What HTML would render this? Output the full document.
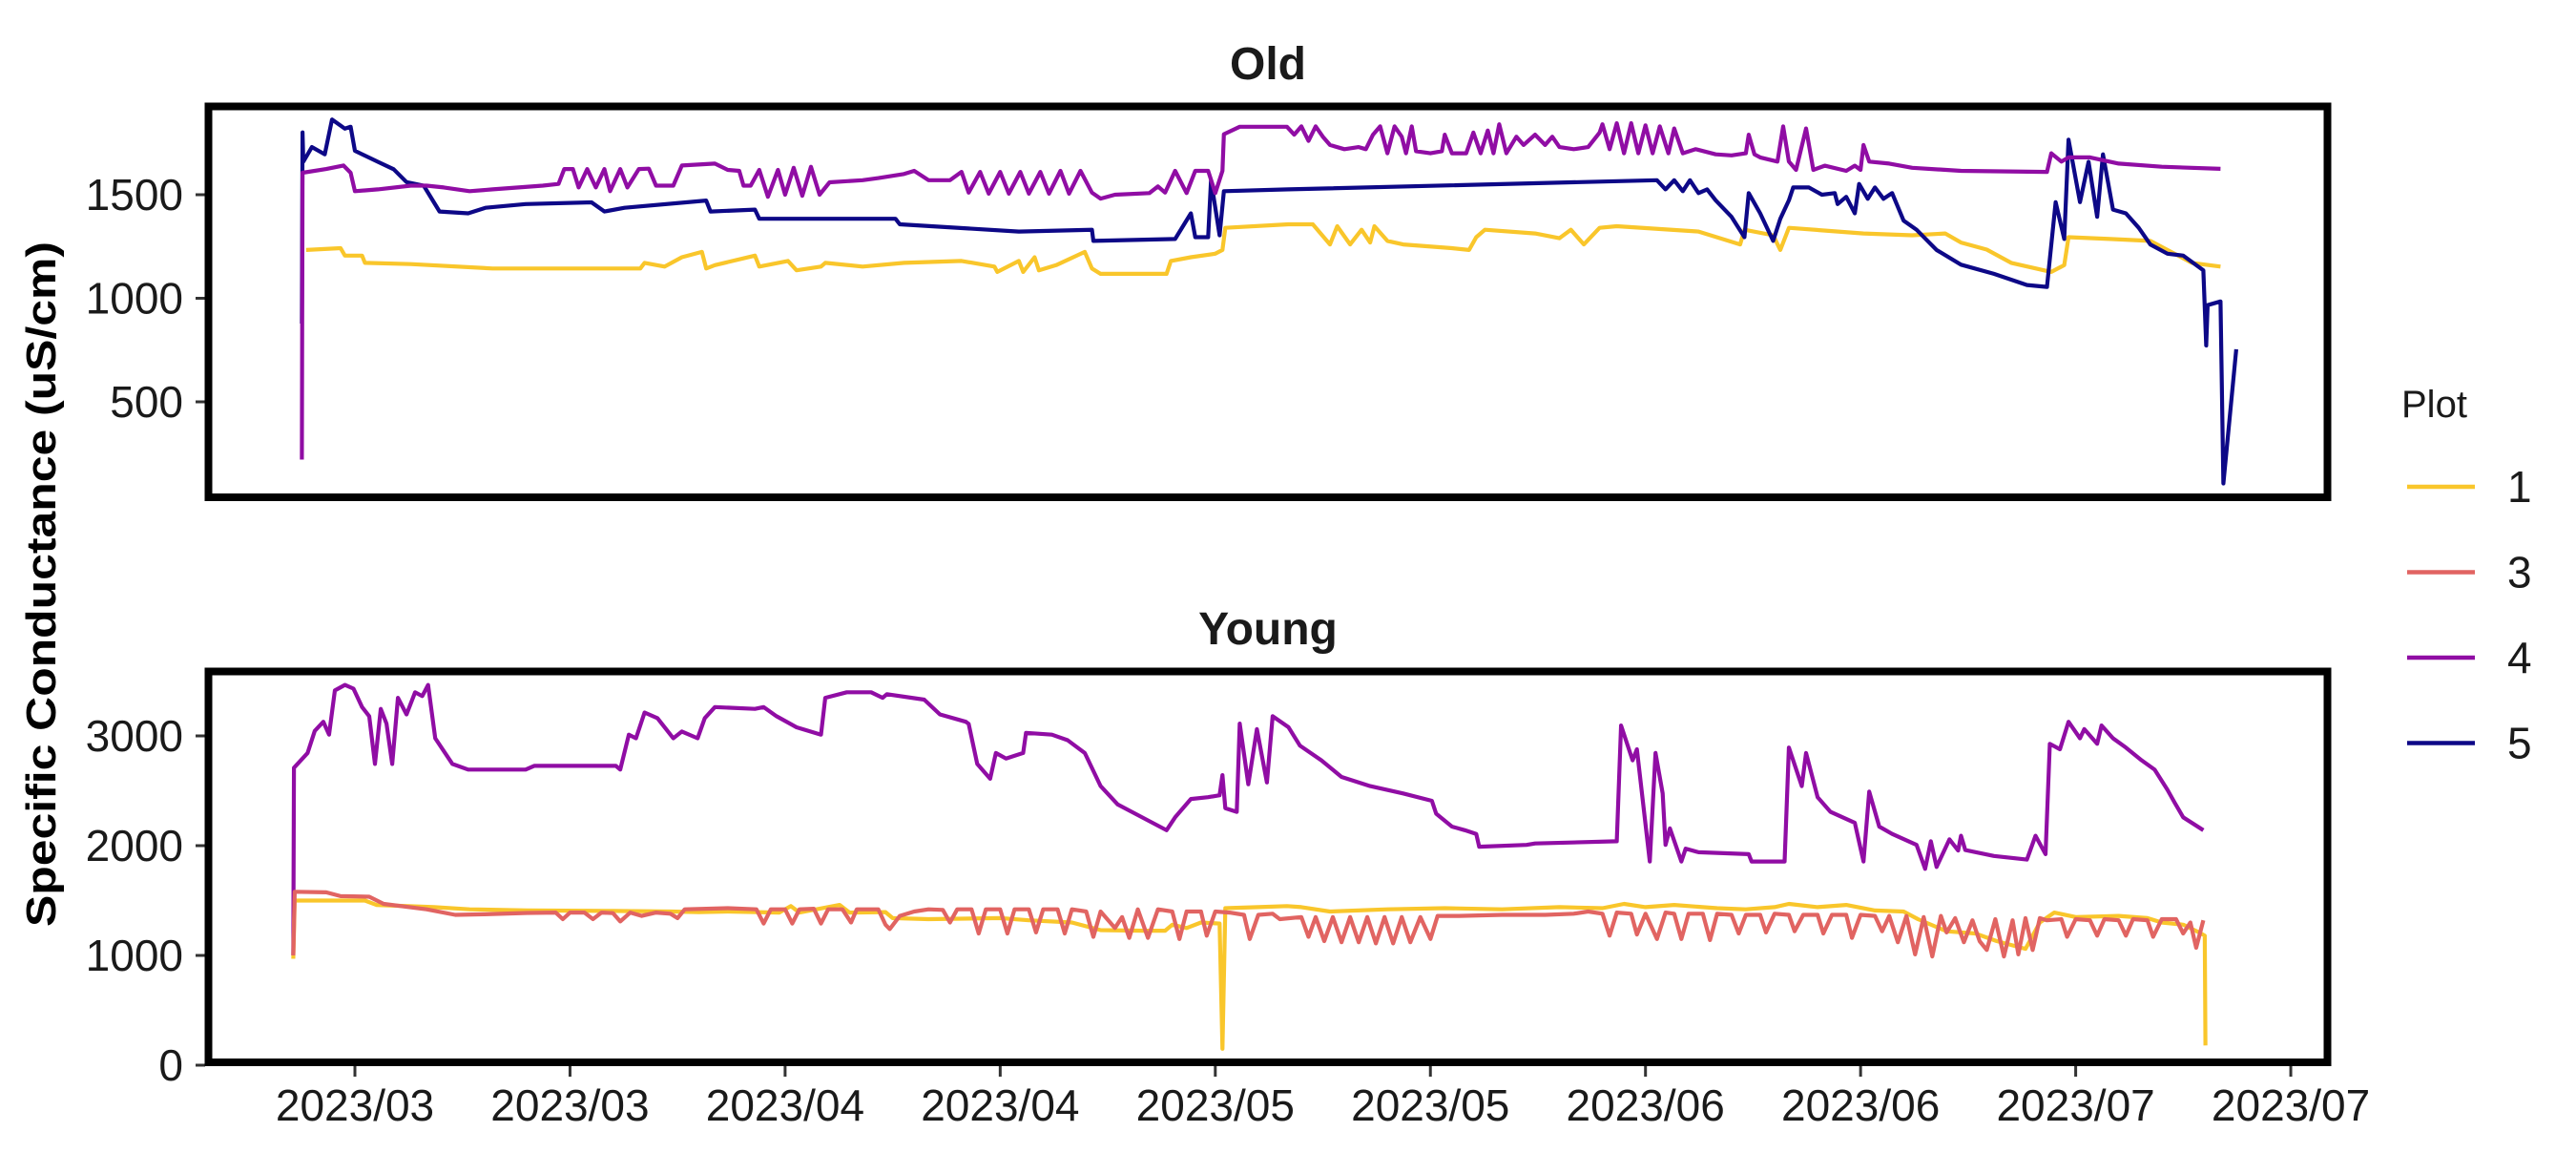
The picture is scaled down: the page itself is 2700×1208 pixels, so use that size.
<!DOCTYPE html>
<html><head><meta charset="utf-8"><style>
html,body{margin:0;padding:0;background:#fff;}
svg{display:block;font-family:"Liberation Sans",Arial,sans-serif;}
</style></head>
<body>
<svg id="chart" width="2700" height="1208" viewBox="0 0 2700 1208" xmlns="http://www.w3.org/2000/svg">
<defs>
<clipPath id="clipTop"><rect x="222" y="115" width="2214" height="402"/></clipPath>
<clipPath id="clipBot"><rect x="222" y="707" width="2214" height="402"/></clipPath>
</defs>
<g id="top-panel"></g>
<g id="bot-panel"></g>
<text x="1329" y="83" text-anchor="middle" font-size="48" font-weight="bold" fill="#1a1a1a">Old</text>
<text x="1329" y="675" text-anchor="middle" font-size="48" font-weight="bold" fill="#1a1a1a">Young</text>
<text transform="translate(58,612) rotate(-90)" text-anchor="middle" font-size="44" font-weight="bold" fill="#000" textLength="718" lengthAdjust="spacingAndGlyphs">Specific Conductance (uS/cm)</text>
<g id="legend"></g>
</svg>
<script>
// ---- data (day offsets relative to first x tick, values in uS/cm) ----
const xTickDays = [0, 15, 30, 45, 60, 75, 90, 105, 120, 135];
const xTickLabels = ["2023/03","2023/03","2023/04","2023/04","2023/05","2023/05","2023/06","2023/06","2023/07","2023/07"];
const oldTicks = [500, 1000, 1500];
const youngTicks = [0, 1000, 2000, 3000];
const legendKeys = ["1","3","4","5"];

const old1 = [[-3.4,1233],[-1,1242],[-0.7,1206],[0.5,1206],[0.7,1171],[3.9,1165],[9.6,1144],[19.9,1144],[20.2,1171],[21.6,1153],[22.8,1198],[24.2,1224],[24.5,1144],[25.1,1160],[27.9,1206],[28.2,1153],[30.2,1180],[30.8,1135],[32.5,1153],[32.8,1171],[35.4,1153],[38.3,1171],[42.3,1180],[44.6,1153],[44.8,1127],[46.3,1180],[46.6,1127],[47.4,1198],[47.7,1135],[48.9,1160],[50.9,1224],[51.4,1144],[52,1118],[56.6,1118],[56.9,1180],[58.3,1198],[60,1215],[60.5,1233],[60.7,1340],[65.1,1357],[66.8,1357],[68,1260],[68.5,1348],[69.4,1260],[70.2,1331],[70.8,1269],[71.1,1348],[72,1277],[73.1,1260],[76.5,1242],[77.7,1233],[78.2,1295],[78.8,1331],[82.3,1313],[84,1290],[84.8,1331],[85.7,1260],[86.8,1340],[88,1348],[93.7,1322],[96.6,1260],[96.9,1331],[98.9,1304],[99.4,1233],[100,1340],[105.2,1313],[108.6,1304],[110.9,1313],[112,1269],[113.8,1235],[115.5,1171],[118.3,1127],[119.2,1160],[119.5,1295],[122.4,1286],[125.2,1277],[126.9,1215],[128.1,1171],[130.1,1153]];
const old4 = [[-3.7,221],[-3.65,1606],[-2,1624],[-0.8,1641],[-0.3,1606],[0,1517],[1.6,1526],[3.9,1544],[5,1544],[6.2,1535],[8,1517],[9.6,1526],[13.1,1544],[14.2,1552],[14.6,1624],[15.2,1624],[15.6,1535],[16.2,1624],[16.8,1535],[17.4,1624],[17.8,1517],[18.5,1624],[19,1535],[19.8,1624],[20.5,1626],[21,1544],[22.2,1544],[22.8,1641],[25.1,1650],[26,1620],[26.8,1615],[27.1,1544],[27.6,1544],[28.2,1620],[28.8,1490],[29.5,1620],[30,1500],[30.6,1630],[31.2,1495],[31.8,1635],[32.4,1500],[33.1,1560],[35.4,1570],[36.5,1580],[38.3,1600],[39,1615],[40,1570],[41.5,1570],[42.3,1610],[42.8,1510],[43.6,1610],[44.2,1505],[45,1610],[45.6,1505],[46.4,1610],[47,1505],[47.8,1610],[48.4,1505],[49.2,1615],[49.8,1505],[50.6,1615],[51.4,1510],[52,1481],[53,1500],[55.4,1508],[56,1540],[56.5,1510],[57.2,1615],[58,1508],[58.6,1615],[59.5,1615],[60,1508],[60.5,1615],[60.6,1792],[61.7,1828],[65,1828],[65.5,1790],[66,1830],[66.5,1760],[67,1830],[67.5,1780],[68,1740],[69,1720],[70,1730],[70.5,1720],[71,1790],[71.5,1830],[72,1700],[72.5,1830],[73,1780],[73.3,1700],[73.7,1830],[74,1710],[75,1700],[75.8,1710],[76,1790],[76.5,1700],[77.5,1700],[78,1800],[78.5,1700],[79,1810],[79.4,1700],[79.8,1840],[80.3,1700],[81,1780],[81.5,1740],[82.3,1790],[83,1740],[83.5,1780],[84,1730],[85,1720],[86,1730],[86.8,1800],[87,1840],[87.5,1720],[88,1845],[88.5,1700],[89,1845],[89.5,1700],[90,1835],[90.5,1700],[91,1830],[91.6,1700],[92,1820],[92.6,1700],[93.5,1720],[94.9,1695],[96,1690],[97,1700],[97.2,1790],[97.6,1695],[98,1680],[99.2,1660],[99.6,1830],[100,1660],[100.5,1620],[101.2,1820],[101.7,1620],[102.5,1640],[104,1615],[104.6,1640],[105,1620],[105.2,1740],[105.6,1660],[107,1650],[108.6,1630],[112,1615],[118,1610],[118.3,1700],[119,1660],[119.5,1680],[121,1680],[123,1650],[126,1635],[130.1,1625]];
const old5 = [[-3.7,878],[-3.65,1801],[-3.6,1659],[-3,1730],[-2.1,1695],[-1.6,1863],[-0.7,1819],[-0.3,1828],[0,1712],[1.6,1659],[2.7,1623],[3.6,1561],[4.8,1544],[5.9,1419],[7.9,1410],[9.1,1437],[11.9,1455],[16.5,1463],[17.4,1419],[18.8,1437],[24.5,1472],[24.8,1419],[27.9,1428],[28.2,1384],[37.7,1384],[38,1357],[46.3,1322],[51.4,1331],[51.5,1277],[57.2,1286],[58.3,1410],[58.6,1295],[59.5,1295],[59.7,1570],[60.3,1304],[60.6,1517],[65.1,1526],[90.8,1570],[91.4,1526],[92,1570],[92.6,1517],[93.1,1570],[93.7,1508],[94.3,1526],[94.9,1473],[96,1393],[96.9,1295],[97.2,1508],[98,1410],[98.9,1277],[99.4,1384],[100,1473],[100.3,1535],[101.4,1535],[102.3,1500],[103.2,1508],[103.4,1455],[104,1490],[104.6,1410],[104.9,1552],[105.5,1480],[106,1535],[106.6,1480],[107.2,1508],[108,1375],[108.9,1331],[110.3,1233],[112,1162],[114.3,1118],[116.6,1064],[118,1055],[118.6,1464],[119.2,1286],[119.5,1766],[120.3,1464],[120.9,1659],[121.5,1393],[121.9,1695],[122.6,1428],[123.5,1410],[124.4,1340],[125.2,1260],[126.4,1215],[127.5,1206],[128.9,1135],[129.1,772],[129.2,967],[130.1,985],[130.3,106],[131.2,754]];

const young1 = [[-4.3,970],[-4.2,1500],[0.7,1500],[1.5,1460],[5.5,1440],[8,1420],[12,1410],[18,1405],[22,1400],[24,1395],[26,1400],[29.6,1390],[30.4,1450],[31,1390],[33.8,1460],[34.5,1390],[37,1395],[37.5,1340],[40,1330],[45,1340],[47,1320],[50,1300],[52,1230],[55,1225],[56.5,1225],[57,1280],[58,1250],[59,1300],[60.3,1290],[60.5,150],[60.7,1430],[63,1440],[65,1450],[66,1440],[68,1400],[72,1420],[76,1430],[80,1420],[84,1440],[87,1430],[88.5,1470],[90,1440],[92,1460],[95,1430],[97,1420],[99,1440],[100,1470],[102,1440],[104,1460],[106,1410],[108,1400],[109,1330],[111,1220],[113,1200],[114.5,1130],[116.5,1060],[117.5,1300],[118.5,1390],[120,1350],[123,1360],[125,1340],[126,1300],[127.5,1280],[128.6,1210],[129,1180],[129.05,180]];
const young3 = [[-4.3,1000],[-4.2,1580],[-2,1575],[-1,1540],[1,1535],[2,1470],[5,1420],[7,1370],[9,1375],[12,1387],[14,1390],[14.5,1330],[15,1390],[16,1390],[16.6,1330],[17.2,1390],[18,1385],[18.5,1310],[19.2,1390],[20,1360],[21,1390],[22,1380],[22.5,1340],[23,1420],[26,1430],[28,1420],[28.5,1290],[29,1420],[30,1420],[30.5,1290],[31,1420],[32,1425],[32.5,1290],[33,1420],[34,1420],[34.6,1300],[35,1420],[36.5,1420],[37,1280],[37.3,1240],[38,1360],[39,1400],[40,1420],[41,1415],[41.5,1300],[42,1420],[43,1420],[43.5,1200],[44,1420],[45,1420],[45.5,1200],[46,1420],[47,1420],[47.5,1210],[48,1420],[49,1420],[49.5,1200],[50,1420],[51,1400],[51.5,1170],[52,1400],[53,1250],[53.5,1350],[54,1160],[54.6,1420],[55.3,1160],[56,1420],[57,1400],[57.5,1150],[58,1400],[59,1400],[59.4,1180],[60,1400],[61,1390],[62,1370],[62.4,1150],[63,1370],[64,1380],[64.5,1330],[66,1350],[66.5,1170],[67,1350],[67.6,1130],[68.2,1350],[68.8,1120],[69.4,1350],[70,1120],[70.6,1350],[71.2,1110],[71.8,1350],[72.4,1110],[73,1350],[73.6,1120],[74.3,1350],[75,1150],[75.5,1360],[77,1360],[80,1370],[83,1370],[85,1380],[86,1400],[87,1380],[87.5,1180],[88,1390],[89,1380],[89.4,1190],[90,1380],[90.8,1150],[91.4,1390],[92,1380],[92.5,1150],[93,1380],[94,1380],[94.5,1140],[95,1380],[96,1370],[96.5,1200],[97,1370],[98,1370],[98.4,1210],[99,1380],[100,1370],[100.4,1220],[101,1370],[102,1370],[102.4,1200],[103,1370],[104,1370],[104.4,1160],[105,1370],[106,1360],[106.5,1220],[107,1360],[107.6,1120],[108.2,1360],[108.8,1010],[109.4,1350],[110,990],[110.6,1360],[111,1210],[111.6,1340],[112.2,1120],[112.8,1320],[113.3,1130],[113.8,1050],[114.4,1330],[115,990],[115.6,1320],[116,1010],[116.5,1340],[117,1050],[117.5,1340],[118,1320],[119,1330],[119.4,1170],[120,1330],[121,1320],[121.5,1180],[122,1330],[123,1320],[123.5,1180],[124,1330],[125,1320],[125.4,1170],[126,1330],[127,1330],[127.5,1200],[128,1300],[128.4,1070],[128.9,1320]];
const young4 = [[-4.3,1002],[-4.25,2710],[-3.3,2844],[-2.8,3045],[-2.2,3129],[-1.8,3011],[-1.4,3414],[-0.7,3464],[-0.1,3430],[0.5,3263],[1,3179],[1.4,2744],[1.8,3246],[2.2,3112],[2.6,2744],[3,3347],[3.6,3196],[4.2,3397],[4.7,3363],[5.1,3464],[5.6,2978],[6.8,2744],[7.9,2693],[11.9,2693],[12.5,2727],[18.2,2727],[18.5,2693],[19.1,3011],[19.6,2978],[20.2,3213],[21.1,3162],[22.2,2978],[22.8,3040],[23.9,2978],[24.4,3162],[25.1,3263],[27.9,3246],[28.5,3263],[29.4,3179],[30.8,3078],[32.5,3011],[32.8,3347],[34.3,3397],[36,3397],[36.8,3347],[37.1,3380],[39.7,3330],[40.8,3196],[42.6,3129],[42.8,3110],[43.4,2744],[44.3,2610],[44.7,2844],[45.4,2794],[46.6,2844],[46.8,3028],[48.6,3011],[49.7,2961],[50.9,2844],[52,2543],[53.2,2375],[54.9,2258],[56.6,2141],[57.2,2258],[58.3,2425],[59.5,2442],[60.3,2459],[60.5,2643],[60.7,2342],[61.5,2308],[61.7,3112],[62.3,2559],[62.9,3062],[63.6,2576],[64,3179],[65.1,3079],[65.9,2911],[67.4,2777],[68.8,2626],[70.8,2543],[73.1,2476],[75.1,2409],[75.4,2291],[76.5,2174],[77.4,2141],[78.2,2107],[78.4,1990],[81.7,2007],[82.3,2020],[88,2040],[88.3,3095],[89.1,2777],[89.4,2878],[90.3,1856],[90.7,2844],[91.2,2476],[91.4,2007],[91.7,2157],[92.5,1856],[92.8,1973],[93.7,1940],[97.2,1923],[97.4,1856],[99.7,1856],[100,2894],[100.9,2543],[101.2,2844],[102,2442],[102.9,2308],[104.6,2208],[105.2,1856],[105.6,2492],[106.3,2174],[107.2,2107],[108.9,2007],[109.5,1789],[109.9,2040],[110.3,1806],[111.2,2057],[111.8,1956],[112,2090],[112.3,1960],[114.3,1906],[116.6,1873],[117.2,2090],[117.9,1923],[118.2,2928],[118.9,2878],[119.5,3129],[120.3,2978],[120.6,3062],[121.5,2928],[121.8,3095],[122.6,2978],[123.5,2894],[124.6,2777],[125.5,2693],[126.4,2509],[126.9,2392],[127.5,2258],[128.9,2141]];

// ---- scales ----
const X0 = 372, PX_PER_DAY = 15.03;
function xScale(d){ return X0 + d*PX_PER_DAY; }
function yOld(v){ return 204 + (1500 - v)*108.5/500; }
function yYoung(v){ return 771 + (3000 - v)*0.115; }

const colors = {"1":"#F9C62B","3":"#E16462","4":"#900DA4","5":"#0D0887"};
const NS = "http://www.w3.org/2000/svg";
function mk(tag, attrs, parent){ const e=document.createElementNS(NS,tag); for(const k in attrs) e.setAttribute(k,attrs[k]); parent.appendChild(e); return e; }

function drawSeries(parent, data, yf, color, clip, name){
  const d = data.map((p,i)=>(i?"L":"M")+xScale(p[0]).toFixed(1)+","+yf(p[1]).toFixed(1)).join(" ");
  const p = mk("path",{d:d,fill:"none",stroke:color,"stroke-width":4.2,"stroke-linejoin":"round","clip-path":"url(#"+clip+")"},parent);
  
  
}

function drawPanel(parent, top, bottom, ticks, yf, series, clip, showX, prefix){
  ticks.forEach(t=>{
    const y = yf(t);
    const tk = mk("line",{x1:205,x2:215,y1:y,y2:y,stroke:"#333","stroke-width":3},parent);
    
    
    const lb = mk("text",{x:192,y:y+16,"text-anchor":"end","font-size":46,fill:"#1a1a1a"},parent);
    lb.textContent = t;
    
    
  });
  series.forEach(s=>drawSeries(parent, s[0], yf, s[1], clip, s[2]));
  const fr = mk("rect",{x:218.5,y:top,width:2221,height:bottom-top,fill:"none",stroke:"#000","stroke-width":8},parent);
  
  
  if(showX){
    xTickDays.forEach((d,i)=>{
      const x = xScale(d);
      const tk = mk("line",{x1:x,x2:x,y1:bottom+4,y2:bottom+15,stroke:"#333","stroke-width":3},parent);
      
      
      const lb = mk("text",{x:x,y:1174,"text-anchor":"middle","font-size":46,fill:"#1a1a1a"},parent);
      lb.textContent = xTickLabels[i];
      
      
    });
  }
}

drawPanel(document.getElementById("top-panel"), 111.5, 521, oldTicks, yOld,
  [[old1,colors["1"],"old-series-1"],[old5,colors["5"],"old-series-5"],[old4,colors["4"],"old-series-4"]],
  "clipTop", false, "old");
drawPanel(document.getElementById("bot-panel"), 703.5, 1113, youngTicks, yYoung,
  [[young4,colors["4"],"young-series-4"],[young1,colors["1"],"young-series-1"],[young3,colors["3"],"young-series-3"]],
  "clipBot", true, "young");

const lg = document.getElementById("legend");
const lt = mk("text",{x:2517,y:437,"font-size":40,fill:"#1a1a1a"},lg);
lt.textContent = "Plot";


legendKeys.forEach((k,i)=>{
  const y = 510 + i*89.5;
  const ln = mk("line",{x1:2523,x2:2594,y1:y,y2:y,stroke:colors[k],"stroke-width":4.5},lg);
  
  
  const tx = mk("text",{x:2628,y:y+16,"font-size":46,fill:"#1a1a1a"},lg);
  tx.textContent = k;
  
  
});
</script>
</body></html>
